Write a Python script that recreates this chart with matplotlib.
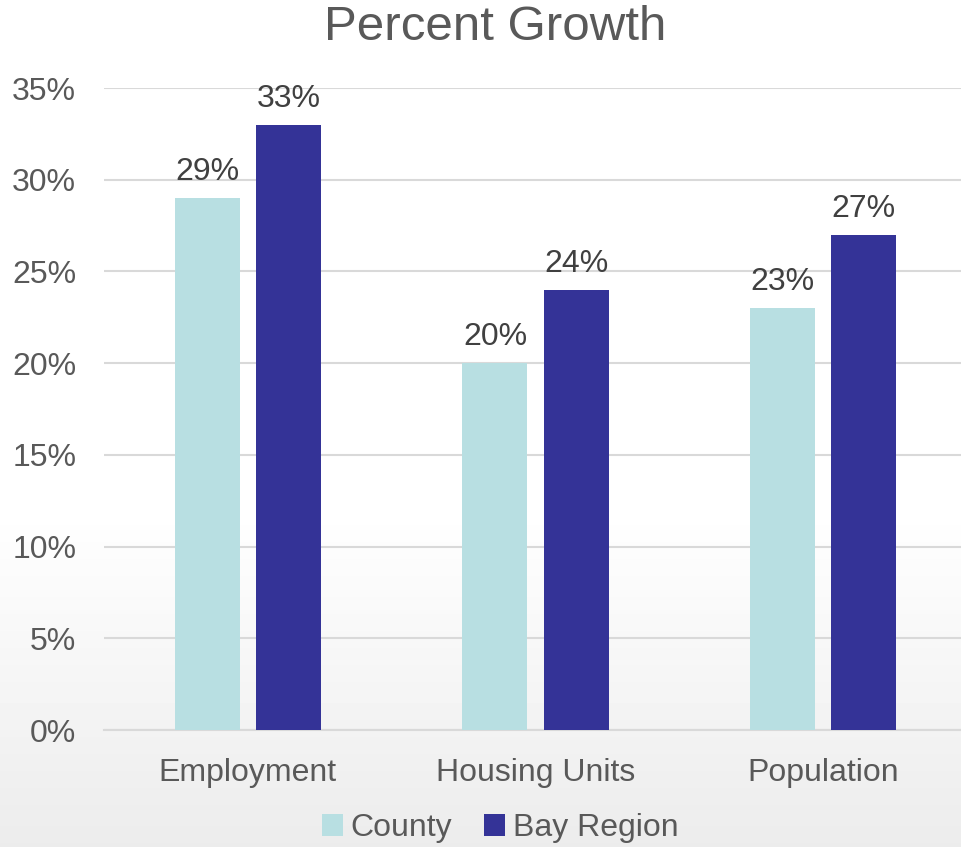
import matplotlib.pyplot as plt
import numpy as np

categories = ["Employment", "Housing Units", "Population"]
county = [29, 20, 23]
bay_region = [33, 24, 27]

plt.rcParams['font.family'] = ['Liberation Sans', 'DejaVu Sans']

fig = plt.figure(figsize=(9.62, 8.47), dpi=100)

# faint grey wash at the bottom, in place of the faded photo
bg = fig.add_axes([0, 0, 1, 1], zorder=-10)
grad = np.linspace(0, 1, 200).reshape(-1, 1)
grad = np.clip((grad - 0.6) / 0.4, 0, 1) * 0.075
bg.imshow(1 - grad, cmap='gray', vmin=0, vmax=1, aspect='auto',
          extent=[0, 1, 0, 1], origin='upper')
bg.axis('off')

ax = fig.add_axes([104 / 962, 1 - 730 / 847, 863 / 962, 642 / 847])
ax.patch.set_alpha(0)

x = np.arange(len(categories))
w = 0.226
off = 0.141
b1 = ax.bar(x - off, county, w, color='#b8dfe2', label='County', zorder=3)
b2 = ax.bar(x + off, bay_region, w, color='#343397', label='Bay Region', zorder=3)

for bars, vals in ((b1, county), (b2, bay_region)):
    for b, v in zip(bars, vals):
        ax.text(b.get_x() + b.get_width() / 2, v + 0.6, f"{v}%",
                ha='center', va='bottom', fontsize=23, color='#404040')

ax.set_xlim(-0.5, 2.5)
ax.set_ylim(0, 35)
ax.set_yticks(range(0, 36, 5))
ax.set_yticklabels([f"{t}%" for t in range(0, 36, 5)])
ax.set_xticks(x)
ax.set_xticklabels(categories)
ax.tick_params(axis='both', length=0, labelsize=23, labelcolor='#595959')
ax.tick_params(axis='y', pad=20)
ax.tick_params(axis='x', pad=20)
ax.grid(axis='y', color='#d9d9d9', linewidth=1.5, zorder=0)
for s in ('top', 'right', 'left'):
    ax.spines[s].set_visible(False)
ax.spines['bottom'].set_color('#d9d9d9')
ax.spines['bottom'].set_linewidth(1.5)

fig.text(0.515, 0.968, "Percent Growth", ha='center', va='center',
         fontsize=35.5, color='#595959')

fig.legend(loc='center', bbox_to_anchor=(0.52, 0.022), ncol=2, frameon=False,
           fontsize=23, labelcolor='#595959', handlelength=0.65, handleheight=0.65,
           handletextpad=0.25, columnspacing=1.0)

fig.savefig('out.png', dpi=100)
